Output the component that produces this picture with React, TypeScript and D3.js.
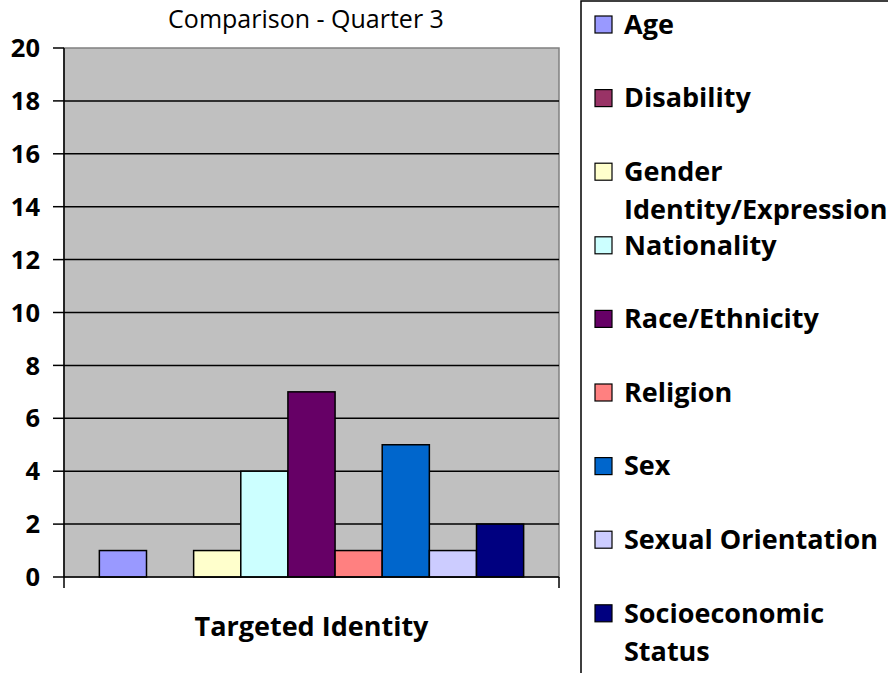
import React from "react";
import * as d3 from "d3";

const categories = ["Targeted Identity"];
const seriesNames = [
  "Age",
  "Disability",
  "Gender Identity/Expression",
  "Nationality",
  "Race/Ethnicity",
  "Religion",
  "Sex",
  "Sexual Orientation",
  "Socioeconomic Status",
];
const seriesValues = [1, 0, 1, 4, 7, 1, 5, 1, 2];
const seriesColors = [
  "#9999FF",
  "#993366",
  "#FFFFCC",
  "#CCFFFF",
  "#660066",
  "#FF8080",
  "#0066CC",
  "#CCCCFF",
  "#000080",
];
const legendLines = [
  ["Age"],
  ["Disability"],
  ["Gender", "Identity/Expression"],
  ["Nationality"],
  ["Race/Ethnicity"],
  ["Religion"],
  ["Sex"],
  ["Sexual Orientation"],
  ["Socioeconomic", "Status"],
];
const yTicks = [0, 2, 4, 6, 8, 10, 12, 14, 16, 18, 20];
const title = "Comparison - Quarter 3";

const W = 888;
const H = 673;
const FONT = "'Open Sans', Lato, sans-serif";

export default function App() {
  const left = 64;
  const right = 559;
  const top = 48;
  const bottom = 577;

  const y = d3.scaleLinear().domain([0, 20]).range([bottom, top]);
  const x0 = d3
    .scaleBand<string>()
    .domain(categories)
    .range([left, right])
    .paddingInner(0)
    .paddingOuter(0.75 / 9);
  const x1 = d3
    .scaleBand<string>()
    .domain(seriesNames)
    .range([0, x0.bandwidth()])
    .padding(0);

  const legendX = 581;
  const legendY0 = 24;
  const legendStep = 73.6;

  return (
    <svg
      width={W}
      height={H}
      style={{ position: "absolute", left: 0, top: 0, background: "#fff" }}
    >
      <rect x={left} y={top} width={right - left} height={bottom - top} fill="#C0C0C0" stroke="#808080" strokeWidth={1.5} />
      {yTicks.filter((t) => t > 0 && t < 20).map((t) => (
        <line key={t} x1={left} x2={right} y1={y(t)} y2={y(t)} stroke="#000" strokeWidth={1.5} />
      ))}
      {categories.map((c) =>
        seriesNames.map((s, i) =>
          seriesValues[i] > 0 ? (
            <rect
              key={c + s}
              x={(x0(c) ?? 0) + (x1(s) ?? 0)}
              y={y(seriesValues[i])}
              width={x1.bandwidth()}
              height={y(0) - y(seriesValues[i])}
              fill={seriesColors[i]}
              stroke="#000"
              strokeWidth={1.5}
            />
          ) : null
        )
      )}
      <line x1={left} x2={left} y1={top} y2={bottom} stroke="#000" strokeWidth={1.5} />
      {yTicks.map((t) => (
        <g key={t}>
          <line x1={left - 11} x2={left} y1={y(t)} y2={y(t)} stroke="#000" strokeWidth={1.5} />
          <text
            x={40}
            y={y(t)}
            dy="0.36em"
            textAnchor="end"
            fontFamily={FONT}
            fontWeight="bold"
            fontSize={25.5}
            fill="#000"
          >
            {t}
          </text>
        </g>
      ))}
      <line x1={left} x2={right} y1={bottom} y2={bottom} stroke="#000" strokeWidth={1.5} />
      <line x1={left} x2={left} y1={bottom} y2={bottom + 11} stroke="#000" strokeWidth={1.5} />
      <line x1={right} x2={right} y1={bottom} y2={bottom + 11} stroke="#000" strokeWidth={1.5} />
      {categories.map((c) => (
        <text
          key={c}
          x={(x0(c) ?? 0) + x0.bandwidth() / 2}
          y={636}
          textAnchor="middle"
          fontFamily={FONT}
          fontWeight="bold"
          fontSize={27}
          fill="#000"
        >
          {c}
        </text>
      ))}
      <text x={306} y={28} textAnchor="middle" fontFamily={FONT} fontSize={25} fill="#000">
        {title}
      </text>
      <rect x={legendX} y={1} width={400} height={800} fill="#fff" stroke="#000" strokeWidth={1.5} />
      {legendLines.map((lines, i) => {
        const cy = legendY0 + i * legendStep;
        return (
          <g key={seriesNames[i]}>
            <rect x={595} y={cy - 8} width={17} height={17} fill={seriesColors[i]} stroke="#000" strokeWidth={1.2} />
            {lines.map((ln, j) => (
              <text
                key={j}
                x={624}
                y={cy + j * 38}
                dy="0.36em"
                fontFamily={FONT}
                fontWeight="bold"
                fontSize={27}
                fill="#000"
              >
                {ln}
              </text>
            ))}
          </g>
        );
      })}
    </svg>
  );
}
